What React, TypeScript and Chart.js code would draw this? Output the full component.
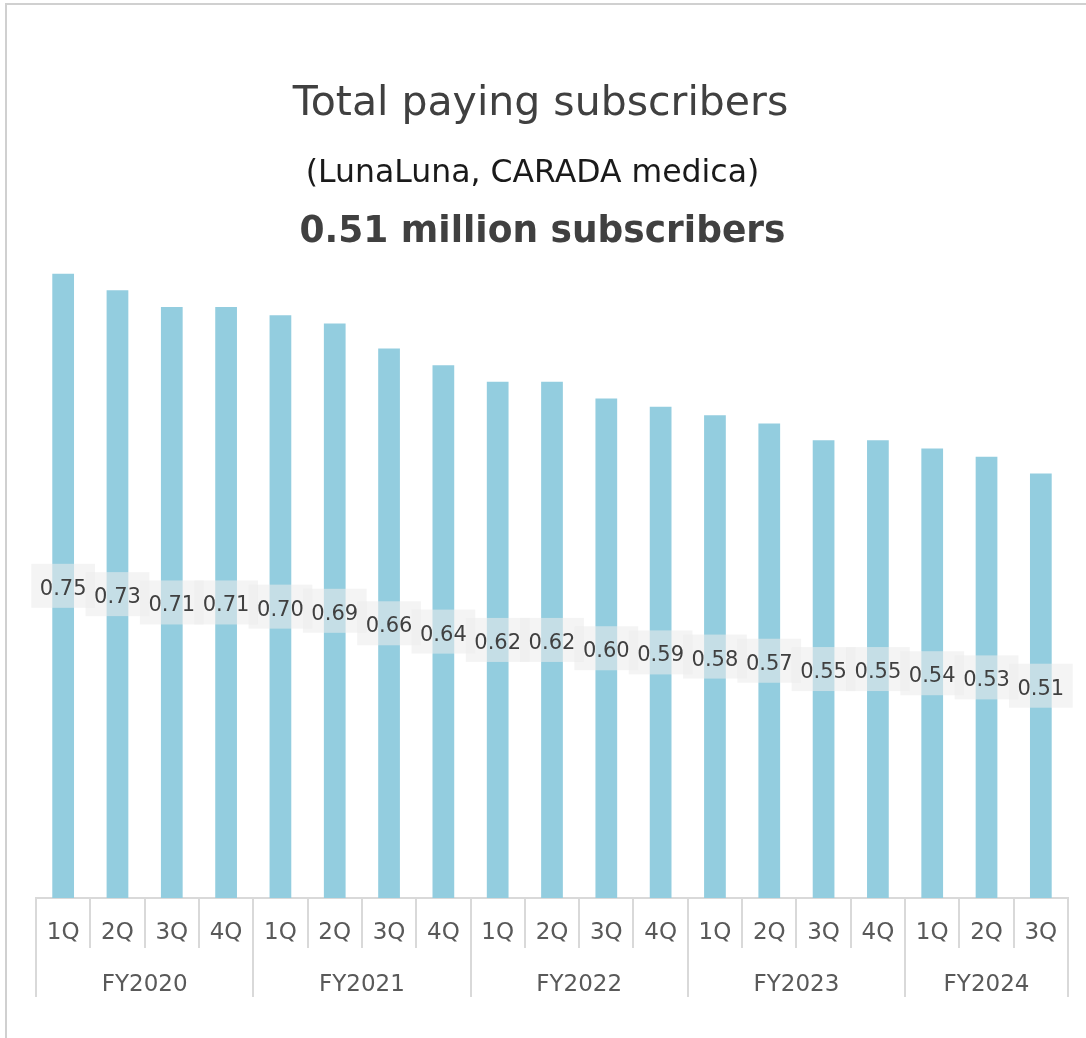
import React, { useEffect, useRef } from "react";
import { Chart, registerables } from "chart.js";

Chart.register(...registerables);

const quarters = [
  "1Q", "2Q", "3Q", "4Q",
  "1Q", "2Q", "3Q", "4Q",
  "1Q", "2Q", "3Q", "4Q",
  "1Q", "2Q", "3Q", "4Q",
  "1Q", "2Q", "3Q",
];
const fiscalYears = ["FY2020", "FY2021", "FY2022", "FY2023", "FY2024"];
const quartersPerYear = [4, 4, 4, 4, 3];
const subscribers = [
  0.75, 0.73, 0.71, 0.71,
  0.70, 0.69, 0.66, 0.64,
  0.62, 0.62, 0.60, 0.59,
  0.58, 0.57, 0.55, 0.55,
  0.54, 0.53, 0.51,
];
const titleText = "Total paying subscribers";
const subtitleText = "(LunaLuna, CARADA medica)";
const headlineText = "0.51 million subscribers";

const FONT = "'DejaVu Sans', Verdana, sans-serif";
const GRID = "#d9d9d9";

const headerPlugin = {
  id: "header",
  afterDraw(chart: any) {
    const ctx = chart.ctx;
    ctx.save();
    ctx.textAlign = "center";
    ctx.textBaseline = "alphabetic";
    ctx.fillStyle = "#404040";
    ctx.font = `41px ${FONT}`;
    ctx.fillText(titleText, 540.5, 115, 500);
    ctx.fillStyle = "#1a1a1a";
    ctx.font = `31.5px ${FONT}`;
    ctx.fillText(subtitleText, 532.5, 182, 456);
    ctx.fillStyle = "#404040";
    ctx.font = `bold 38px ${FONT}`;
    ctx.fillText(headlineText, 542.5, 242, 486);
    ctx.restore();
  },
};

const groupAxisPlugin = {
  id: "groupAxis",
  afterDraw(chart: any) {
    const ctx = chart.ctx;
    const xs = chart.scales.x;
    const top = xs.top;
    ctx.save();
    ctx.strokeStyle = GRID;
    ctx.lineWidth = 2;
    let start = 0;
    const bounds: number[] = [0];
    quartersPerYear.forEach((n) => {
      start += n;
      bounds.push(start);
    });
    bounds.forEach((b) => {
      const px = Math.round(xs.getPixelForValue(b - 0.5));
      ctx.beginPath();
      ctx.moveTo(px, top);
      ctx.lineTo(px, top + 99);
      ctx.stroke();
    });
    ctx.fillStyle = "#595959";
    ctx.font = `23px ${FONT}`;
    ctx.textAlign = "center";
    ctx.textBaseline = "alphabetic";
    fiscalYears.forEach((fy, i) => {
      const a = xs.getPixelForValue(bounds[i] - 0.5);
      const b = xs.getPixelForValue(bounds[i + 1] - 0.5);
      ctx.fillText(fy, (a + b) / 2, top + 93);
    });
    ctx.restore();
  },
};

const dataLabelPlugin = {
  id: "dataLabels",
  afterDatasetsDraw(chart: any) {
    const ctx = chart.ctx;
    const meta = chart.getDatasetMeta(0);
    const ds = chart.data.datasets[0];
    ctx.save();
    ctx.font = `21px ${FONT}`;
    const items = meta.data.map((el: any, i: number) => {
      const text = Number(ds.data[i]).toFixed(2);
      const w = ctx.measureText(text).width;
      return { x: el.x, y: (el.y + el.base) / 2, text, w };
    });
    ctx.fillStyle = "rgba(236,236,236,0.57)";
    items.forEach((it: any) => {
      const bw = it.w + 17;
      const bh = 44;
      ctx.fillRect(it.x - bw / 2, it.y - bh / 2, bw, bh);
    });
    ctx.fillStyle = "#404040";
    ctx.textAlign = "center";
    ctx.textBaseline = "alphabetic";
    items.forEach((it: any) => {
      ctx.fillText(it.text, it.x, it.y + 9);
    });
    ctx.restore();
  },
};

export default function App() {
  const ref = useRef<HTMLCanvasElement | null>(null);

  useEffect(() => {
    if (!ref.current) return;
    Chart.defaults.font.family = FONT;
    const chart = new Chart(ref.current, {
      type: "bar",
      data: {
        labels: quarters,
        datasets: [
          {
            data: subscribers,
            backgroundColor: "#93CDDF",
            borderWidth: 0,
            categoryPercentage: 1,
            barPercentage: 0.4,
          },
        ],
      },
      options: {
        animation: false,
        responsive: false,
        maintainAspectRatio: false,
        layout: { padding: { top: 232, left: 36, right: 18, bottom: 40 } },
        plugins: {
          legend: { display: false },
          title: { display: false },
          tooltip: { enabled: false },
        },
        scales: {
          x: {
            type: "category",
            offset: true,
            afterFit: (scale: any) => {
              scale.height = 100;
            },
            border: { display: true, color: GRID, width: 2 },
            grid: {
              display: true,
              drawOnChartArea: false,
              drawTicks: true,
              tickLength: 50,
              color: GRID,
              lineWidth: 2,
              offset: true,
            },
            ticks: {
              color: "#595959",
              font: { size: 23, family: FONT },
              padding: -29,
              maxRotation: 0,
              autoSkip: false,
            },
          },
          y: {
            display: false,
            min: 0,
            max: 0.8,
          },
        },
      },
      plugins: [headerPlugin, groupAxisPlugin, dataLabelPlugin],
    });
    return () => chart.destroy();
  }, []);

  return (
    <div style={{ position: "absolute", left: 0, top: 0, width: 1086, height: 1038, background: "#fff" }}>
      <div
        style={{
          position: "absolute",
          left: 5,
          top: 3,
          width: 1100,
          height: 1100,
          borderLeft: "2px solid #d0d0d0",
          borderTop: "2px solid #d0d0d0",
        }}
      />
      <canvas ref={ref} width={1086} height={1038} style={{ position: "absolute", left: 0, top: 0, width: 1086, height: 1038 }} />
    </div>
  );
}
